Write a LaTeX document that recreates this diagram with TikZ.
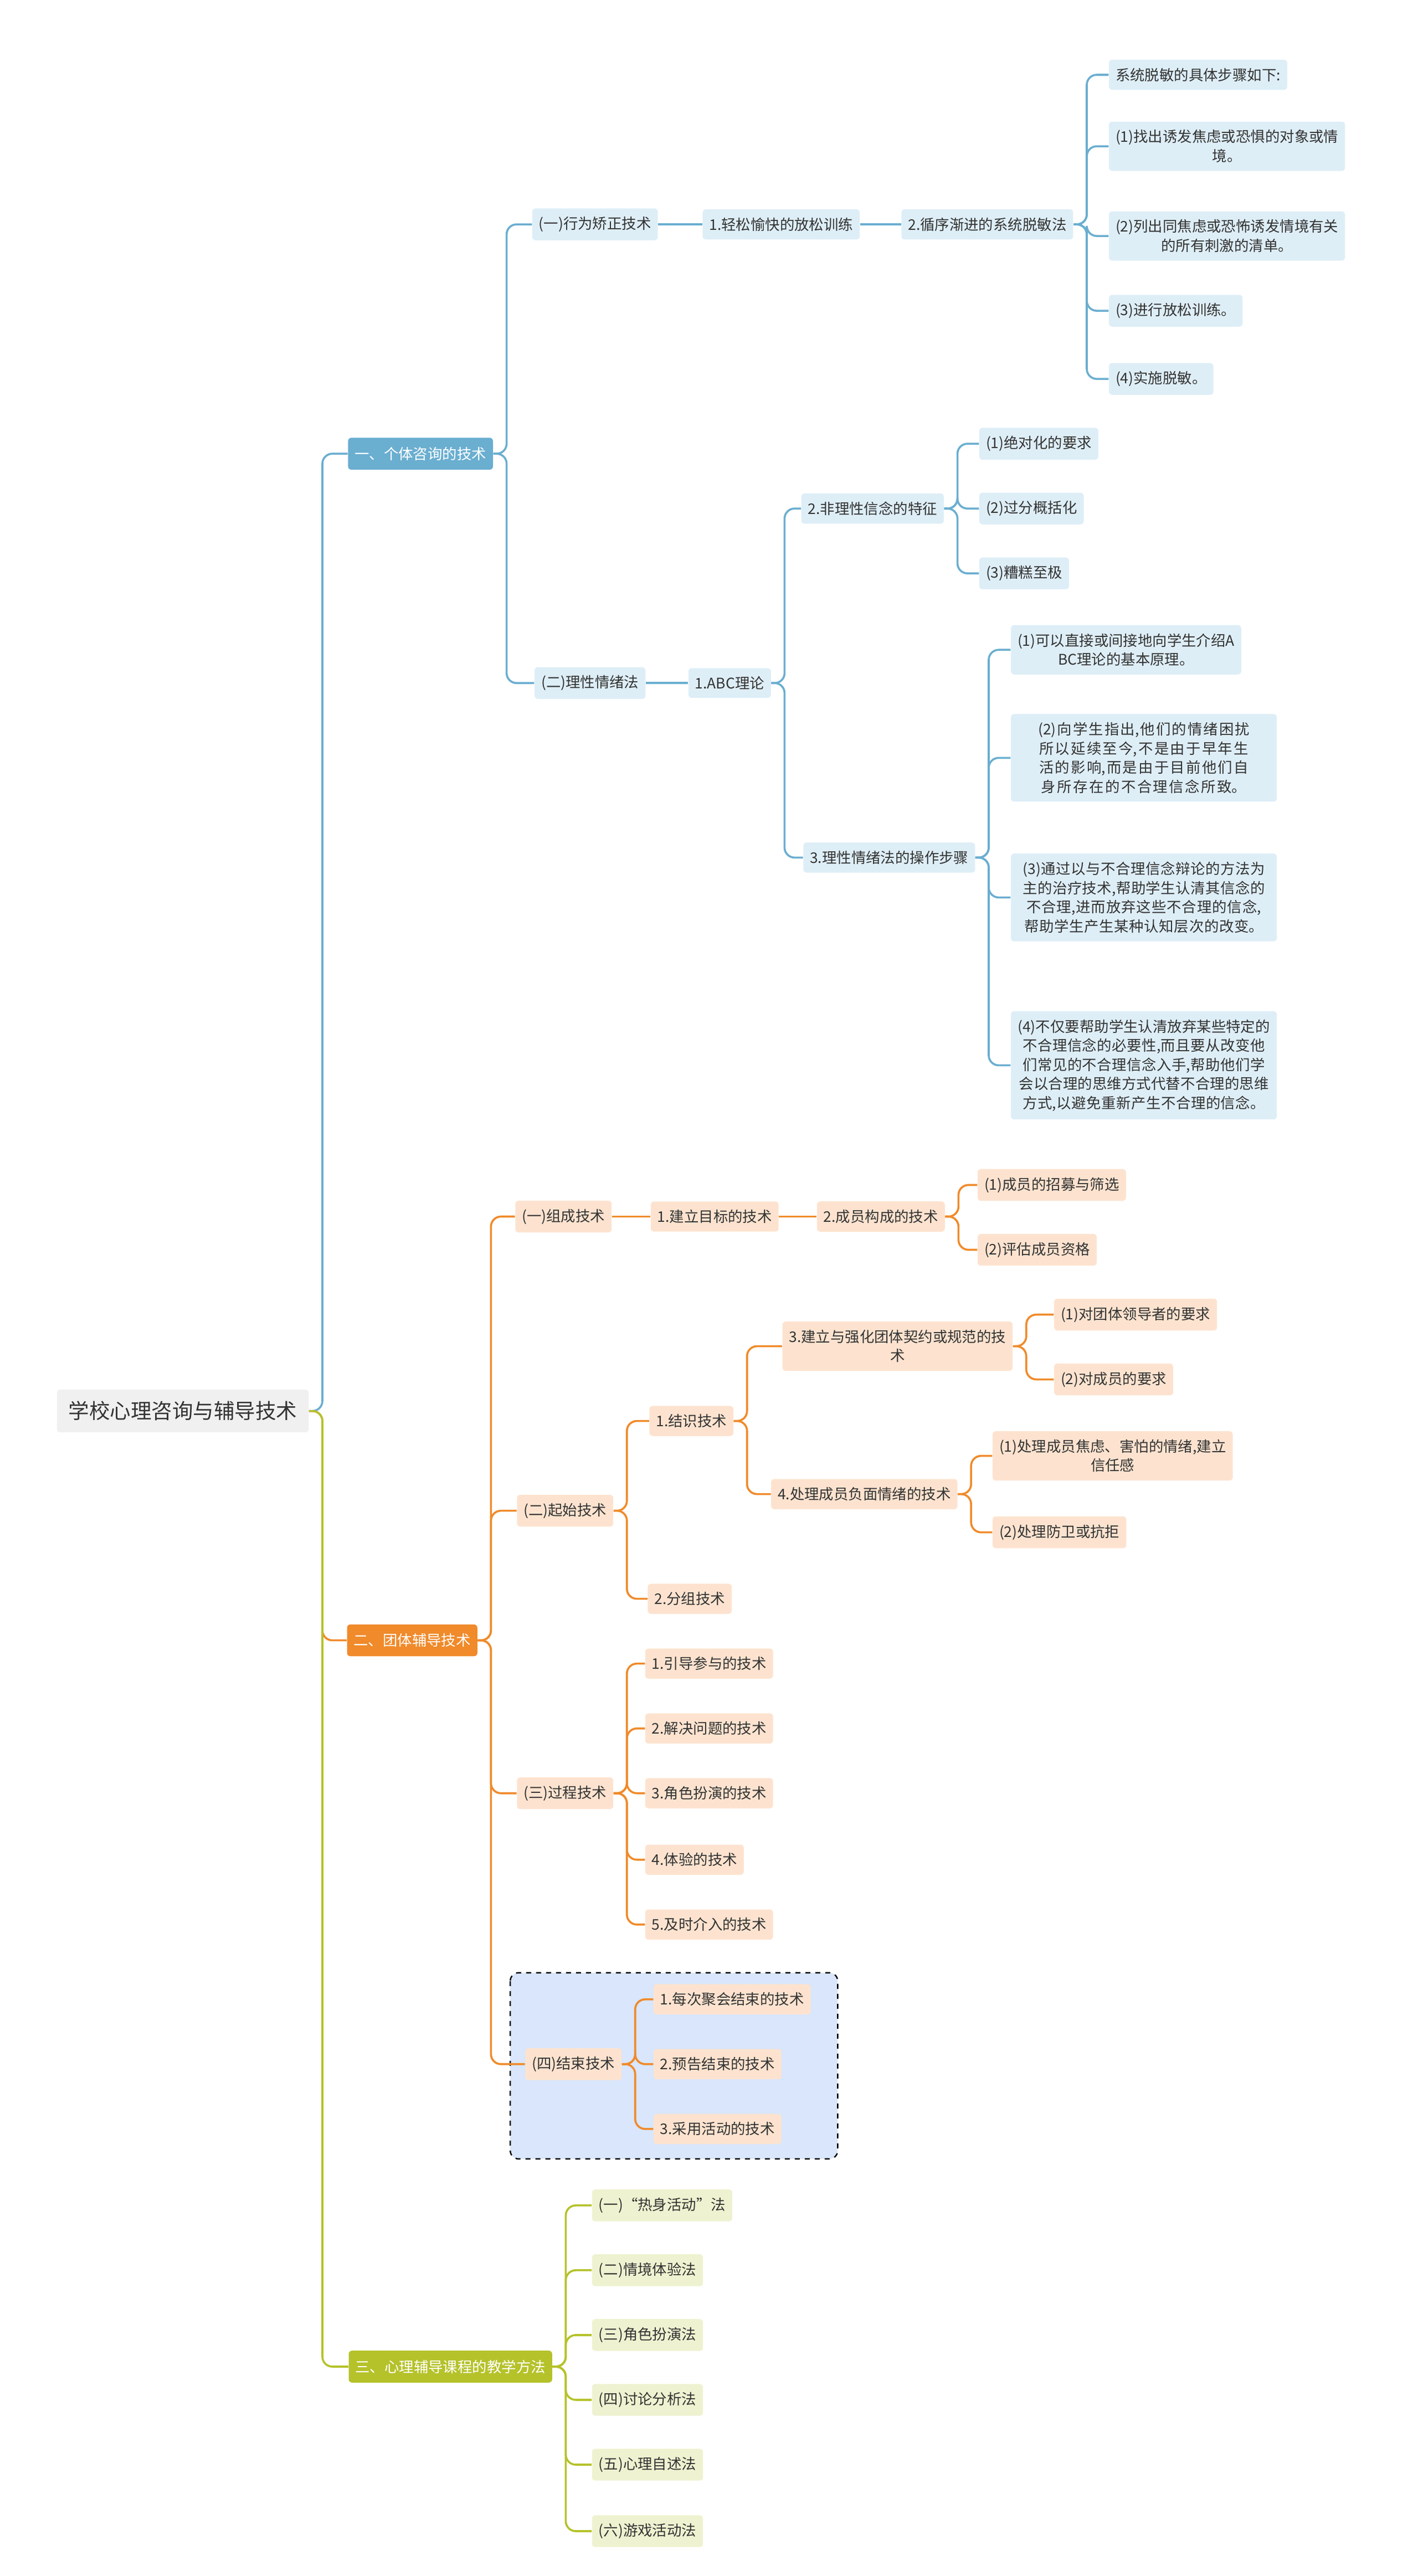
\documentclass[tikz,border=0pt]{standalone}
\usepackage{fontspec}
\setmainfont{Noto Sans CJK SC}
\XeTeXlinebreaklocale "zh"
\XeTeXlinebreakskip=0pt plus 1pt
\usepackage{tikz}
\usetikzlibrary{positioning,calc}
\definecolor{bluel}{HTML}{6AAED0}
\definecolor{bluef}{HTML}{DEEEF7}
\definecolor{orgl}{HTML}{F08A2A}
\definecolor{orgf}{HTML}{FDE3CF}
\definecolor{olvl}{HTML}{B5C22A}
\definecolor{olvf}{HTML}{EEF2D0}
\definecolor{endf}{HTML}{D9E6FB}
\definecolor{txt}{HTML}{333333}
\newcommand{\link}[3]{\draw[#1] (#2.east) -- ($(#2.east)+(8,0)$) |- (#3.west);}
\newcommand{\slink}[3]{\draw[#1] (#2.east) -- (#3.west);}

\begin{document}
\begin{tikzpicture}[
    x=1pt, y=-1pt,
    box/.style={rectangle, rounded corners=2pt, inner xsep=4pt, inner ysep=5pt, align=center, text=txt, font=\fontsize{8.8}{11.5}\selectfont},
    bnode/.style={box, fill=bluef},
    onode/.style={box, fill=orgf},
    vnode/.style={box, fill=olvf},
    main/.style={box, text=white, inner ysep=5.5pt},
    bline/.style={bluel, line width=1.2pt, rounded corners=6pt},
    oline/.style={orgl, line width=1.2pt, rounded corners=6pt},
    vline/.style={olvl, line width=1.2pt, rounded corners=6pt}
]
    \useasboundingbox (0,0) rectangle (853,1550);
    % finishing group box
    \draw[dashed, thick, fill=endf, rounded corners=5pt] (307,1187) rectangle (504,1299);

    \node[box, fill=gray!12, inner sep=7pt, font=\fontsize{12.5}{15}\selectfont] (root) at (110,849) {学校心理咨询与辅导技术};
    \node[main, fill=bluel] (ind) at (253,273) {一、个体咨询的技术};
    \node[main, fill=orgl] (grp) at (248,987) {二、团体辅导技术};
    \node[main, fill=olvl] (cls) at (271,1424) {三、心理辅导课程的教学方法};

    % individual counselling
    \node[bnode] (beh) at (358,135) {(一)行为矫正技术};
    \node[bnode] (relax) at (470,135) {1.轻松愉快的放松训练};
    \node[bnode] (desens) at (594,135) {2.循序渐进的系统脱敏法};
    \node[bnode, anchor=west] (ds0) at (667,45) {系统脱敏的具体步骤如下:};
    \node[bnode, anchor=west] (ds1) at (667,88) {(1)找出诱发焦虑或恐惧的对象或情\\境。};
    \node[bnode, anchor=west] (ds2) at (667,142) {(2)列出同焦虑或恐怖诱发情境有关\\的所有刺激的清单。};
    \node[bnode, anchor=west] (ds3) at (667,187) {(3)进行放松训练。};
    \node[bnode, anchor=west] (ds4) at (667,228) {(4)实施脱敏。};
    \node[bnode] (rat) at (355,411) {(二)理性情绪法};
    \node[bnode] (abc) at (439,411) {1.ABC理论};
    \node[bnode] (irr) at (525,306) {2.非理性信念的特征};
    \node[bnode, anchor=west] (ir1) at (589,267) {(1)绝对化的要求};
    \node[bnode, anchor=west] (ir2) at (589,306) {(2)过分概括化};
    \node[bnode, anchor=west] (ir3) at (589,345) {(3)糟糕至极};
    \node[bnode] (op) at (535,516) {3.理性情绪法的操作步骤};
    \node[bnode, anchor=west] (op1) at (608,391) {(1)可以直接或间接地向学生介绍A\\BC理论的基本原理。};
    \node[bnode, anchor=west, text width=152pt] (op2) at (608,456) {(2)向学生指出,他们的情绪困扰所以延续至今,不是由于早年生活的影响,而是由于目前他们自身所存在的不合理信念所致。};
    \node[bnode, anchor=west, text width=152pt] (op3) at (608,540) {(3)通过以与不合理信念辩论的方法为主的治疗技术,帮助学生认清其信念的不合理,进而放弃这些不合理的信念,帮助学生产生某种认知层次的改变。};
    \node[bnode, anchor=west, text width=152pt] (op4) at (608,641) {(4)不仅要帮助学生认清放弃某些特定的不合理信念的必要性,而且要从改变他们常见的不合理信念入手,帮助他们学会以合理的思维方式代替不合理的思维方式,以避免重新产生不合理的信念。};

    % group counselling
    \node[onode] (form) at (339,732) {(一)组成技术};
    \node[onode] (goal) at (430,732) {1.建立目标的技术};
    \node[onode] (memb) at (530,732) {2.成员构成的技术};
    \node[onode, anchor=west] (mb1) at (588,713) {(1)成员的招募与筛选};
    \node[onode, anchor=west] (mb2) at (588,752) {(2)评估成员资格};
    \node[onode] (start) at (340,909) {(二)起始技术};
    \node[onode] (meet) at (416,855) {1.结识技术};
    \node[onode] (rule) at (540,810) {3.建立与强化团体契约或规范的技\\术};
    \node[onode, anchor=west] (ru1) at (634,791) {(1)对团体领导者的要求};
    \node[onode, anchor=west] (ru2) at (634,830) {(2)对成员的要求};
    \node[onode] (emo) at (520,899) {4.处理成员负面情绪的技术};
    \node[onode, anchor=west] (em1) at (597,876) {(1)处理成员焦虑、害怕的情绪,建立\\信任感};
    \node[onode, anchor=west] (em2) at (597,922) {(2)处理防卫或抗拒};
    \node[onode] (split) at (415,962) {2.分组技术};
    \node[onode] (proc) at (340,1079) {(三)过程技术};
    \node[onode, anchor=west] (pr1) at (388,1001) {1.引导参与的技术};
    \node[onode, anchor=west] (pr2) at (388,1040) {2.解决问题的技术};
    \node[onode, anchor=west] (pr3) at (388,1079) {3.角色扮演的技术};
    \node[onode, anchor=west] (pr4) at (388,1119) {4.体验的技术};
    \node[onode, anchor=west] (pr5) at (388,1158) {5.及时介入的技术};
    \node[onode] (end) at (345,1242) {(四)结束技术};
    \node[onode, anchor=west] (en1) at (393,1203) {1.每次聚会结束的技术};
    \node[onode, anchor=west] (en2) at (393,1242) {2.预告结束的技术};
    \node[onode, anchor=west] (en3) at (393,1281) {3.采用活动的技术};

    % class methods
    \node[vnode, anchor=west] (cm1) at (356,1327) {(一)“热身活动”法};
    \node[vnode, anchor=west] (cm2) at (356,1366) {(二)情境体验法};
    \node[vnode, anchor=west] (cm3) at (356,1405) {(三)角色扮演法};
    \node[vnode, anchor=west] (cm4) at (356,1444) {(四)讨论分析法};
    \node[vnode, anchor=west] (cm5) at (356,1483) {(五)心理自述法};
    \node[vnode, anchor=west] (cm6) at (356,1523) {(六)游戏活动法};

    % connectors
    \link{bline}{root}{ind}
    \link{oline}{root}{grp}
    \link{vline}{root}{cls}
    \foreach \p/\c in {beh/relax, relax/desens, rat/abc}
        {\slink{bline}{\p}{\c}}
    \foreach \p/\c in {ind/beh, desens/ds0, desens/ds1, desens/ds2, desens/ds3, desens/ds4,
        ind/rat, abc/irr, irr/ir1, irr/ir2, irr/ir3, abc/op, op/op1, op/op2, op/op3, op/op4}
        {\link{bline}{\p}{\c}}
    \foreach \p/\c in {form/goal, goal/memb}
        {\slink{oline}{\p}{\c}}
    \foreach \p/\c in {grp/form, memb/mb1, memb/mb2, grp/start, start/meet, meet/rule, rule/ru1, rule/ru2,
        meet/emo, emo/em1, emo/em2, start/split, grp/proc, proc/pr1, proc/pr2, proc/pr3, proc/pr4, proc/pr5,
        grp/end, end/en1, end/en2, end/en3}
        {\link{oline}{\p}{\c}}
    \foreach \c in {cm1, cm2, cm3, cm4, cm5, cm6}
        {\link{vline}{cls}{\c}}
\end{tikzpicture}
\end{document}
